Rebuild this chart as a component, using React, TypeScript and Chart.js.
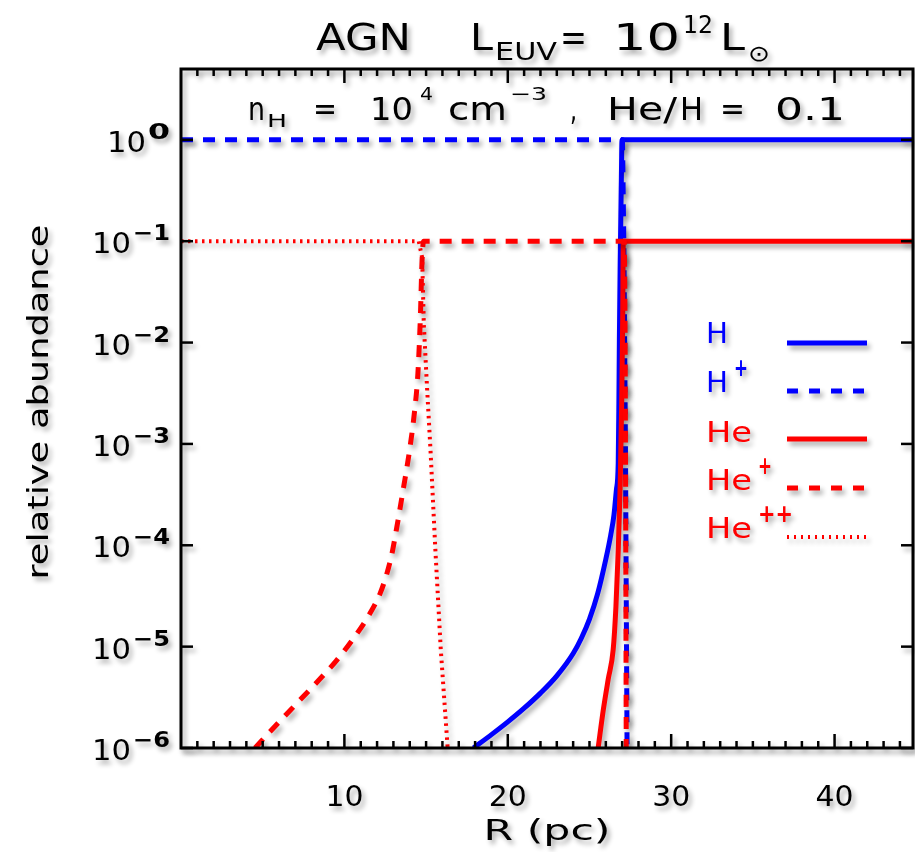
import React, { useEffect, useRef } from 'react';
import { Chart, registerables } from 'chart.js';
Chart.register(...registerables);

const FONT = '"DejaVu Sans", "Noto Sans", sans-serif';
const BLUE = '#0000ff';
const RED = '#ff0000';

// Axis ranges / ticks
const X_MIN = 0;
const X_MAX = 44.8;
const Y_MIN = 1e-6;
const Y_MAX = 5;
const X_MAJOR_TICKS = [10, 20, 30, 40];
const X_MINOR_TICKS = [1,2,3,4,5,6,7,8,9,11,12,13,14,15,16,17,18,19,21,22,23,24,25,26,27,28,29,31,32,33,34,35,36,37,38,39,41,42,43,44];
const Y_TICK_EXPONENTS = [0, -1, -2, -3, -4, -5, -6];

// H (neutral hydrogen), solid blue
const H_R = [17.9, 19.0, 20.0, 21.0, 22.0, 23.0, 24.0, 24.5, 25.0, 25.5, 26.0, 26.3, 26.5, 26.65, 26.76, 26.8, 26.83, 26.88, 26.95, 26.99, 44.8];
const H_Y = [1e-6, 1.355e-6, 1.81e-6, 2.47e-6, 3.48e-6, 5.15e-6, 8.55e-6, 1.21e-5, 1.87e-5, 3.33e-5, 7.28e-5, 1.26e-4, 2.0e-4, 3.55e-4, 6.46e-4, 2.5e-3, 1.07e-2, 6.3e-2, 0.4, 1, 1];

// H+ dashed blue
const HP_R = [0, 27.02, 27.1, 27.2, 27.3];
const HP_Y = [1, 1, 0.1, 1e-3, 1e-6];

// He solid red
const HE_R = [25.53, 25.85, 26.15, 26.45, 26.62, 26.76, 26.88, 26.97, 27.03, 27.07, 44.8];
const HE_Y = [1e-6, 2.4e-6, 4.8e-6, 9.3e-6, 2.5e-5, 8.9e-5, 4e-4, 2.5e-3, 1.58e-2, 0.1, 0.1];

// He+ dashed red
const HEP_R = [4.53, 5.5, 6.5, 7.5, 8.5, 9.5, 10.5, 11.5, 12.2, 12.6, 12.9, 13.2, 13.6, 14.0, 14.3, 14.5, 14.65, 14.75, 14.85, 27.12, 27.18, 27.22, 27.25];
const HEP_Y = [1e-6, 1.48e-6, 2.19e-6, 3.24e-6, 4.79e-6, 7.24e-6, 1.17e-5, 2.04e-5, 3.39e-5, 5.25e-5, 8.13e-5, 1.48e-4, 3.55e-4, 8.9e-4, 2.14e-3, 5.0e-3, 1.78e-2, 6.3e-2, 0.1, 0.1, 1e-2, 1e-4, 1e-6];

// He++ dotted red
const HEPP_R = [0, 14.55, 14.76, 14.86, 15.06, 15.27, 15.57, 15.9, 16.32];
const HEPP_Y = [0.1, 0.1, 6.9e-2, 1.51e-2, 3.55e-3, 8.7e-4, 8.9e-5, 9.3e-6, 1e-6];

const LEGEND = [
  { name: 'H', sup: '', color: BLUE, dash: [] as number[], width: 5 },
  { name: 'H', sup: '+', color: BLUE, dash: [11, 11], width: 5 },
  { name: 'He', sup: '', color: RED, dash: [] as number[], width: 5 },
  { name: 'He', sup: '+', color: RED, dash: [11, 11], width: 5 },
  { name: 'He', sup: '++', color: RED, dash: [2, 5], width: 4 },
];

const pts = (r: number[], y: number[]) => r.map((v, i) => ({ x: v, y: y[i] }));

// draw text, optionally stretched horizontally to a target width
function txt(ctx: CanvasRenderingContext2D, s: string, x: number, y: number, size: number, width = 0, color = '#000', align: CanvasTextAlign = 'left', weight = 'normal') {
  ctx.font = `${weight} ${size}px ${FONT}`;
  ctx.fillStyle = color;
  ctx.textBaseline = 'alphabetic';
  const w = ctx.measureText(s).width;
  const sx = width > 0 ? width / w : 1;
  ctx.save();
  ctx.translate(x, y);
  ctx.scale(sx, 1);
  ctx.textAlign = align;
  ctx.fillText(s, 0, 0);
  ctx.restore();
  return w * sx;
}

const shadowPlugin = {
  id: 'shadowAll',
  beforeDraw(chart: any) {
    const ctx = chart.ctx as CanvasRenderingContext2D;
    ctx.fillStyle = '#fff';
    ctx.fillRect(0, 0, chart.width, chart.height);
    ctx.shadowColor = 'rgba(0,0,0,0.33)';
    ctx.shadowBlur = 5;
    ctx.shadowOffsetX = 3;
    ctx.shadowOffsetY = 4;
  },
  afterDatasetsDraw(chart: any) {
    const ctx = chart.ctx as CanvasRenderingContext2D;
    const { left, right, top, bottom } = chart.chartArea;
    const xs = chart.scales.x;
    const ys = chart.scales.y;
    ctx.save();
    ctx.strokeStyle = '#000';
    ctx.lineWidth = 2.5;
    ctx.setLineDash([]);
    const seg = (x1: number, y1: number, x2: number, y2: number) => {
      ctx.beginPath(); ctx.moveTo(x1, y1); ctx.lineTo(x2, y2); ctx.stroke();
    };
    X_MINOR_TICKS.forEach((v) => {
      const px = xs.getPixelForValue(v);
      seg(px, bottom, px, bottom - 7);
      seg(px, top, px, top + 7);
    });
    X_MAJOR_TICKS.forEach((v) => {
      const px = xs.getPixelForValue(v);
      seg(px, bottom, px, bottom - 14);
      seg(px, top, px, top + 14);
    });
    Y_TICK_EXPONENTS.forEach((e) => {
      const py = ys.getPixelForValue(Math.pow(10, e));
      seg(left, py, left + 12, py);
      seg(right, py, right - 12, py);
    });
    ctx.lineWidth = 3;
    ctx.strokeRect(left, top, right - left, bottom - top);
    ctx.restore();
  },
  afterDraw(chart: any) {
    const ctx = chart.ctx as CanvasRenderingContext2D;
    const { left, right, top, bottom } = chart.chartArea;
    const xs = chart.scales.x;
    const ys = chart.scales.y;
    ctx.save();
    // y tick labels
    Y_TICK_EXPONENTS.forEach((e) => {
      const py = ys.getPixelForValue(Math.pow(10, e));
      const sup = e === 0 ? '0' : '\u2212' + Math.abs(e);
      const supW = e === 0 ? 22 : 37;
      const rx = 170;
      txt(ctx, sup, rx - supW, py - 1, 21, supW, '#000', 'left', '600');
      txt(ctx, '10', rx - supW - 2 - 39, py + 12, 29, 39);
    });
    // x tick labels
    X_MAJOR_TICKS.forEach((v) => {
      const px = xs.getPixelForValue(v);
      txt(ctx, String(v), px, 806, 29, 38, '#000', 'center');
    });
    // axis titles
    txt(ctx, 'R (pc)', (left + right) / 2, 840, 29, 127, '#000', 'center');
    ctx.save();
    ctx.translate(38, 402);
    ctx.rotate(-Math.PI / 2);
    txt(ctx, 'relative abundance', 0, 10, 29, 355, '#000', 'center');
    ctx.restore();
    // title
    txt(ctx, 'AGN', 316, 50, 38, 95);
    txt(ctx, 'L', 470, 50, 38, 23);
    txt(ctx, 'EUV', 495, 60, 24, 62);
    txt(ctx, '=', 560, 50, 38, 27);
    txt(ctx, '10', 613, 50, 38, 67);
    txt(ctx, '12', 683, 33, 25, 30);
    txt(ctx, 'L', 720, 50, 38, 25);
    txt(ctx, '\u2299', 748, 61, 22, 22);
    // subtitle inside plot
    txt(ctx, 'n', 248, 120, 32, 17);
    txt(ctx, 'H', 267, 127, 17, 20);
    txt(ctx, '=', 313, 120, 32, 24);
    txt(ctx, '10', 370, 120, 32, 43);
    txt(ctx, '4', 420, 100, 18, 13);
    txt(ctx, 'cm', 448, 120, 32, 59);
    txt(ctx, '\u22123', 510, 100, 18, 37);
    txt(ctx, ',', 570, 120, 32, 7);
    txt(ctx, 'He/', 607, 120, 32, 70);
    txt(ctx, 'H', 680, 120, 32, 23);
    txt(ctx, '=', 720, 120, 32, 25);
    txt(ctx, '0.1', 775, 120, 32, 70);
    // legend
    const baselines = [343, 392, 442, 490, 538];
    const lineYs = [343, 391, 439, 488, 537];
    LEGEND.forEach((it, i) => {
      const w = txt(ctx, it.name, 706, baselines[i], 29, it.name === 'H' ? 22 : 46, it.color);
      if (it.sup) txt(ctx, it.sup, 706 + w + 6, baselines[i] - 16, 24, it.sup.length === 2 ? 35 : 14, it.color, 'left', 'bold');
      ctx.strokeStyle = it.color;
      ctx.lineWidth = it.width;
      ctx.setLineDash(it.dash);
      ctx.lineCap = 'butt';
      ctx.beginPath();
      ctx.moveTo(787, lineYs[i]);
      ctx.lineTo(867, lineYs[i]);
      ctx.stroke();
    });
    ctx.restore();
    ctx.shadowColor = 'rgba(0,0,0,0)';
    ctx.shadowBlur = 0;
    ctx.shadowOffsetX = 0;
    ctx.shadowOffsetY = 0;
  },
};

export default function App() {
  const ref = useRef<HTMLCanvasElement>(null);
  useEffect(() => {
    const chart = new Chart(ref.current as HTMLCanvasElement, {
      type: 'line',
      data: {
        datasets: [
          { label: 'H', data: pts(H_R, H_Y), borderColor: BLUE, borderWidth: 5, cubicInterpolationMode: 'monotone', order: 5 },
          { label: 'H+', data: pts(HP_R, HP_Y), borderColor: BLUE, borderWidth: 5, borderDash: [12, 10], order: 4 },
          { label: 'He', data: pts(HE_R, HE_Y), borderColor: RED, borderWidth: 5, cubicInterpolationMode: 'monotone', order: 3 },
          { label: 'He+', data: pts(HEP_R, HEP_Y), borderColor: RED, borderWidth: 5, borderDash: [12, 10], cubicInterpolationMode: 'monotone', order: 2 },
          { label: 'He++', data: pts(HEPP_R, HEPP_Y), borderColor: RED, borderWidth: 4, borderDash: [2.5, 4.5], order: 1 },
        ],
      },
      options: {
        animation: false,
        responsive: false,
        devicePixelRatio: 1,
        parsing: false as any,
        layout: { padding: { left: 181, top: 69, right: 2, bottom: 104 } },
        plugins: { legend: { display: false }, tooltip: { enabled: false }, title: { display: false } },
        elements: { point: { radius: 0 }, line: { tension: 0, borderCapStyle: 'butt', borderJoinStyle: 'round', fill: false } },
        scales: {
          x: { type: 'linear', min: X_MIN, max: X_MAX, display: false },
          y: { type: 'logarithmic', min: Y_MIN, max: Y_MAX, display: false },
        },
      },
      plugins: [shadowPlugin],
    } as any);
    return () => chart.destroy();
  }, []);
  return (
    <div style={{ position: 'absolute', left: 0, top: 0, width: 915, height: 852, background: '#fff' }}>
      <canvas ref={ref} width={915} height={852} style={{ display: 'block', width: 915, height: 852 }} />
    </div>
  );
}
